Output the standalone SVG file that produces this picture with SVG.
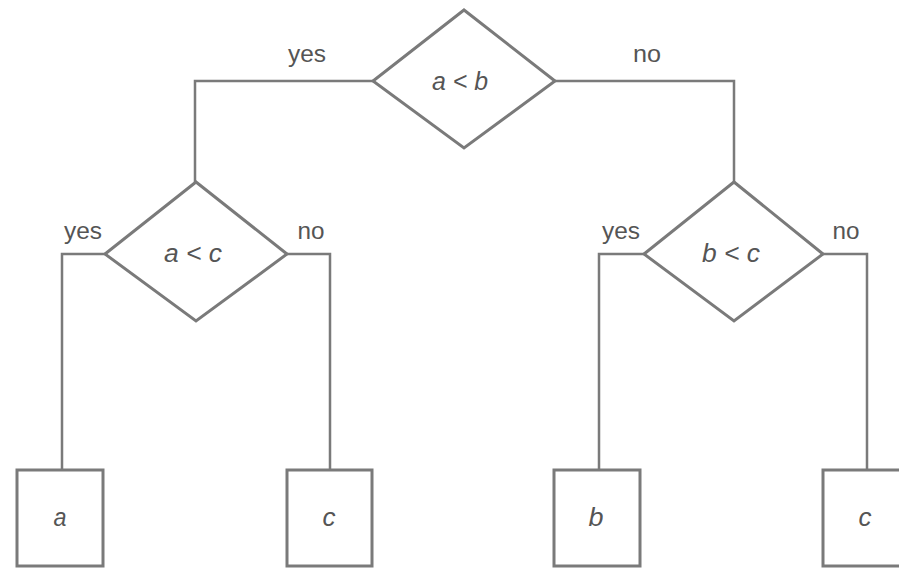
<svg xmlns="http://www.w3.org/2000/svg" width="899" height="568" viewBox="0 0 899 568">
<style>
.shape{fill:#fff;stroke:#7a7a7a;stroke-width:3}
.conn{fill:none;stroke:#7a7a7a;stroke-width:2.5}
.lbl{font-family:"Liberation Sans Narrow","Liberation Sans",Arial,sans-serif;font-size:24px;fill:#555;text-anchor:middle}
.val{font-family:"Liberation Sans Narrow","Liberation Sans",Arial,sans-serif;font-size:26px;font-style:italic;fill:#555;text-anchor:middle}
</style>
<rect width="899" height="568" fill="#fff"/>
<g id="connectors">
<polyline class="conn" points="373,81 195,81 195,182"/>
<polyline class="conn" points="555,81 734,81 734,182"/>
<polyline class="conn" points="105,254 62,254 62,470"/>
<polyline class="conn" points="287,254 330,254 330,470"/>
<polyline class="conn" points="644,254 599,254 599,470"/>
<polyline class="conn" points="823,254 867,254 867,470"/>
<text class="lbl" x="307" y="62" textLength="38" lengthAdjust="spacingAndGlyphs">yes</text>
<text class="lbl" x="647" y="62" textLength="28" lengthAdjust="spacingAndGlyphs">no</text>
<text class="lbl" x="83" y="239" textLength="38" lengthAdjust="spacingAndGlyphs">yes</text>
<text class="lbl" x="311" y="239" textLength="27" lengthAdjust="spacingAndGlyphs">no</text>
<text class="lbl" x="621" y="239" textLength="38" lengthAdjust="spacingAndGlyphs">yes</text>
<text class="lbl" x="846" y="239" textLength="27" lengthAdjust="spacingAndGlyphs">no</text>
</g>
<g id="n-ab">
<polygon class="shape" points="464,10 555,81 464,148 373,81"/>
<text class="val" x="460" y="90" textLength="56" lengthAdjust="spacingAndGlyphs">a &lt; b</text>
</g>
<g id="n-ac">
<polygon class="shape" points="196,182 287,254 196,321 105,254"/>
<text class="val" x="193" y="262" textLength="58" lengthAdjust="spacingAndGlyphs">a &lt; c</text>
</g>
<g id="n-bc">
<polygon class="shape" points="734,182 823,254 734,321 644,254"/>
<text class="val" x="731" y="262" textLength="58" lengthAdjust="spacingAndGlyphs">b &lt; c</text>
</g>
<g id="leaf-a">
<rect class="shape" x="17" y="470" width="86" height="96"/>
<text class="val" x="60" y="526" textLength="13" lengthAdjust="spacingAndGlyphs">a</text>
</g>
<g id="leaf-c1">
<rect class="shape" x="287" y="470" width="85" height="96"/>
<text class="val" x="329" y="526" textLength="13" lengthAdjust="spacingAndGlyphs">c</text>
</g>
<g id="leaf-b">
<rect class="shape" x="554" y="470" width="86" height="96"/>
<text class="val" x="596" y="526" textLength="15" lengthAdjust="spacingAndGlyphs">b</text>
</g>
<g id="leaf-c2">
<rect class="shape" x="823" y="470" width="86" height="96"/>
<text class="val" x="865" y="526" textLength="13" lengthAdjust="spacingAndGlyphs">c</text>
</g>
</svg>
